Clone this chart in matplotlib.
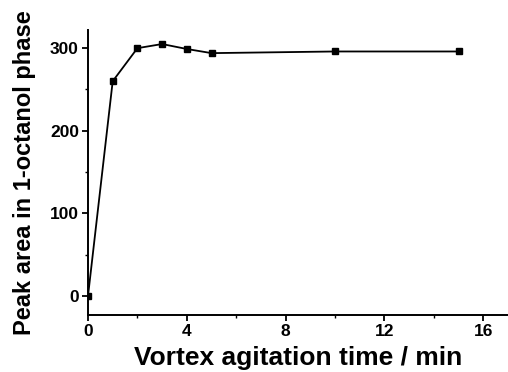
import matplotlib
matplotlib.use("Agg")
import matplotlib.pyplot as plt
from matplotlib.ticker import MultipleLocator

time_min = [0, 1, 2, 3, 4, 5, 10, 15]
peak_area = [0, 260, 300, 305, 299, 294, 296, 296]

plt.rcParams['font.family'] = ['Liberation Sans', 'DejaVu Sans']

fig = plt.figure(figsize=(5.08, 3.72), dpi=100)
ax = fig.add_axes([88/508, 1-315/372, (508-88)/508, (315-30)/372])
ax.plot(time_min, peak_area, color='black', lw=1.3, marker='s', ms=5)
ax.set_xlim(0, 17)
ax.set_ylim(-23, 322)
ax.xaxis.set_major_locator(MultipleLocator(4))
ax.xaxis.set_minor_locator(MultipleLocator(2))
ax.yaxis.set_major_locator(MultipleLocator(100))
ax.yaxis.set_minor_locator(MultipleLocator(50))
for s in ['top', 'right']:
    ax.spines[s].set_visible(False)
for s in ['left', 'bottom']:
    ax.spines[s].set_linewidth(1.4)
ax.tick_params(which='major', direction='out', length=4.5, width=1.3, labelsize=12.5, pad=2)
ax.tick_params(which='minor', direction='out', length=2.5, width=1.0)
for lab in ax.get_xticklabels() + ax.get_yticklabels():
    lab.set_fontweight('bold')
ax.set_xlabel('Vortex agitation time / min', fontsize=19, fontweight='bold', labelpad=5)
ax.set_ylabel('Peak area in 1-octanol phase', fontsize=17, fontweight='bold', labelpad=10)
fig.savefig('out.png', dpi=100)
